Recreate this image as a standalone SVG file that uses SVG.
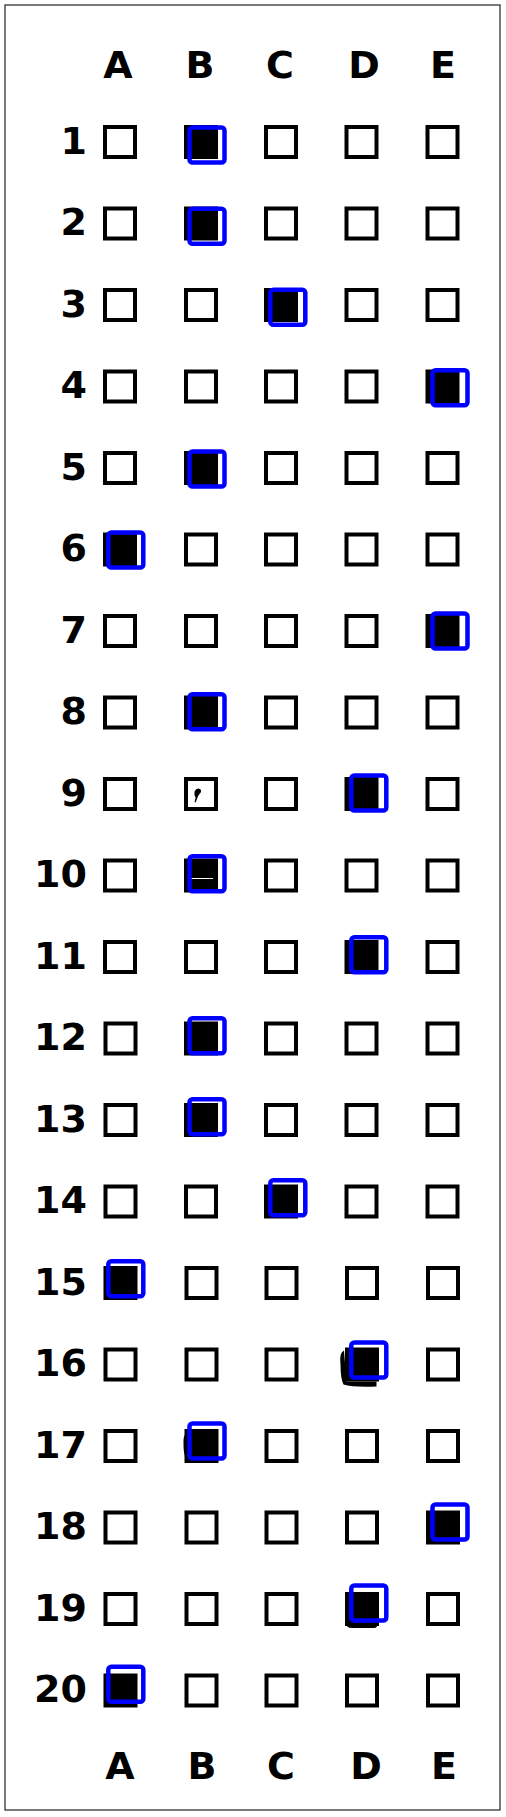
<svg xmlns="http://www.w3.org/2000/svg" width="506" height="1817" viewBox="0 0 506 1817">
<style>
.t{font-family:"DejaVu Sans","Verdana",sans-serif;font-weight:bold;font-size:38px;fill:#000}
.n{text-anchor:end}
.c{text-anchor:middle}
.b{fill:#fff;stroke:#000;stroke-width:4}
.f{fill:#000;stroke:#000;stroke-width:4}
.s{fill:none;stroke:#0000ff;stroke-width:4.5}
</style>
<defs>
<rect id="bx" x="-15" y="-15" width="30" height="30"/>
<rect id="bl" x="-17.5" y="-17.5" width="35" height="35" rx="3"/>
</defs>
<rect x="5" y="5" width="495" height="1805" fill="#fff" stroke="#222" stroke-width="1.2"/>
<g id="header">
<text class="t c" x="118" y="78">A</text>
<text class="t c" x="200" y="78">B</text>
<text class="t c" x="280" y="78">C</text>
<text class="t c" x="364" y="78">D</text>
<text class="t c" x="443" y="78">E</text>
</g>
<g id="footer">
<text class="t c" x="120" y="1779">A</text>
<text class="t c" x="202" y="1779">B</text>
<text class="t c" x="281" y="1779">C</text>
<text class="t c" x="366" y="1779">D</text>
<text class="t c" x="444" y="1779">E</text>
</g>
<g id="row1" transform="translate(0,142)"><text class="t n" x="87" y="11.5">1</text><use href="#bx" class="b" x="120"/><use href="#bx" class="f" x="201"/><use href="#bx" class="b" x="281"/><use href="#bx" class="b" x="361.5"/><use href="#bx" class="b" x="442.5"/><use href="#bl" class="s" x="207" y="3"/></g>
<g id="row2" transform="translate(0,223.5)"><text class="t n" x="87" y="11.5">2</text><use href="#bx" class="b" x="120"/><use href="#bx" class="f" x="201"/><use href="#bx" class="b" x="281"/><use href="#bx" class="b" x="361.5"/><use href="#bx" class="b" x="442.5"/><use href="#bl" class="s" x="207" y="2.7"/></g>
<g id="row3" transform="translate(0,305)"><text class="t n" x="87" y="11.5">3</text><use href="#bx" class="b" x="120"/><use href="#bx" class="b" x="201"/><use href="#bx" class="f" x="281"/><use href="#bx" class="b" x="361.5"/><use href="#bx" class="b" x="442.5"/><use href="#bl" class="s" x="287.8" y="2.2"/></g>
<g id="row4" transform="translate(0,386.5)"><text class="t n" x="87" y="11.5">4</text><use href="#bx" class="b" x="120"/><use href="#bx" class="b" x="201"/><use href="#bx" class="b" x="281"/><use href="#bx" class="b" x="361.5"/><use href="#bx" class="f" x="442.5"/><use href="#bl" class="s" x="450" y="1.3"/></g>
<g id="row5" transform="translate(0,468)"><text class="t n" x="87" y="11.5">5</text><use href="#bx" class="b" x="120"/><use href="#bx" class="f" x="201"/><use href="#bx" class="b" x="281"/><use href="#bx" class="b" x="361.5"/><use href="#bx" class="b" x="442.5"/><use href="#bl" class="s" x="207" y="1"/></g>
<g id="row6" transform="translate(0,549.5)"><text class="t n" x="87" y="11.5">6</text><use href="#bx" class="f" x="120"/><use href="#bx" class="b" x="201"/><use href="#bx" class="b" x="281"/><use href="#bx" class="b" x="361.5"/><use href="#bx" class="b" x="442.5"/><use href="#bl" class="s" x="125.8" y="0.5"/></g>
<g id="row7" transform="translate(0,631)"><text class="t n" x="87" y="11.5">7</text><use href="#bx" class="b" x="120"/><use href="#bx" class="b" x="201"/><use href="#bx" class="b" x="281"/><use href="#bx" class="b" x="361.5"/><use href="#bx" class="f" x="442.5"/><use href="#bl" class="s" x="450" y="0"/></g>
<g id="row8" transform="translate(0,712.5)"><text class="t n" x="87" y="11.5">8</text><use href="#bx" class="b" x="120"/><use href="#bx" class="f" x="201"/><use href="#bx" class="b" x="281"/><use href="#bx" class="b" x="361.5"/><use href="#bx" class="b" x="442.5"/><use href="#bl" class="s" x="207" y="-0.7"/></g>
<g id="row9" transform="translate(0,794)"><text class="t n" x="87" y="11.5">9</text><use href="#bx" class="b" x="120"/><use href="#bx" class="b" x="201"/><path d="M194.5,-2.5 q2,-4 5.5,-2.5 q2.5,2 -0.5,5 q-2,2 -2.5,5 l-1.5,3.5 l-1,-0.5 l1.2,-4.5 q-1.5,-1 -1.2,-6 z" fill="#000"/><use href="#bx" class="b" x="281"/><use href="#bx" class="f" x="361.5"/><use href="#bx" class="b" x="442.5"/><use href="#bl" class="s" x="368.8" y="-1"/></g>
<g id="row10" transform="translate(0,875.5)"><text class="t n" x="87" y="11.5">10</text><use href="#bx" class="b" x="120"/><use href="#bx" class="f" x="201"/><path d="M189,3 H213" stroke="#fff" stroke-width="1"/><use href="#bx" class="b" x="281"/><use href="#bx" class="b" x="361.5"/><use href="#bx" class="b" x="442.5"/><use href="#bl" class="s" x="207" y="-1.8"/></g>
<g id="row11" transform="translate(0,957)"><text class="t n" x="87" y="11.5">11</text><use href="#bx" class="b" x="120"/><use href="#bx" class="b" x="201"/><use href="#bx" class="b" x="281"/><use href="#bx" class="f" x="361.5"/><use href="#bx" class="b" x="442.5"/><use href="#bl" class="s" x="368.8" y="-2.2"/></g>
<g id="row12" transform="translate(0,1038.5)"><text class="t n" x="87" y="11.5">12</text><use href="#bx" class="b" x="120.5"/><use href="#bx" class="f" x="201"/><use href="#bx" class="b" x="281"/><use href="#bx" class="b" x="361.5"/><use href="#bx" class="b" x="442.5"/><use href="#bl" class="s" x="207" y="-2.7"/></g>
<g id="row13" transform="translate(0,1120)"><text class="t n" x="87" y="11.5">13</text><use href="#bx" class="b" x="120.5"/><use href="#bx" class="f" x="201"/><use href="#bx" class="b" x="281"/><use href="#bx" class="b" x="361.5"/><use href="#bx" class="b" x="442.5"/><use href="#bl" class="s" x="207" y="-3.2"/></g>
<g id="row14" transform="translate(0,1201.5)"><text class="t n" x="87" y="11.5">14</text><use href="#bx" class="b" x="120.5"/><use href="#bx" class="b" x="201"/><use href="#bx" class="f" x="281"/><use href="#bx" class="b" x="361.5"/><use href="#bx" class="b" x="442.5"/><use href="#bl" class="s" x="287.8" y="-3.7"/></g>
<g id="row15" transform="translate(0,1283)"><text class="t n" x="87" y="11.5">15</text><use href="#bx" class="f" x="120.5"/><use href="#bx" class="b" x="201.5"/><use href="#bx" class="b" x="281.5"/><use href="#bx" class="b" x="362"/><use href="#bx" class="b" x="443"/><use href="#bl" class="s" x="125.8" y="-4.3"/></g>
<g id="row16" transform="translate(0,1364.5)"><text class="t n" x="87" y="11.5">16</text><use href="#bx" class="b" x="120.5"/><use href="#bx" class="b" x="201.5"/><use href="#bx" class="b" x="281.5"/><path d="M344,-14 q-5,2 -3.5,14 q0,14 3,20 q10,3 33,2 l0,-5 h-30 z" fill="#000"/><use href="#bx" class="f" x="362"/><use href="#bx" class="b" x="443"/><use href="#bl" class="s" x="368.8" y="-4.5"/></g>
<g id="row17" transform="translate(0,1446)"><text class="t n" x="87" y="11.5">17</text><use href="#bx" class="b" x="120.5"/><path d="M187,-14 q-4,3 -3.5,12 q0,8 1.5,12 h4 z" fill="#000"/><use href="#bx" class="f" x="201.5"/><use href="#bx" class="b" x="281.5"/><use href="#bx" class="b" x="362"/><use href="#bx" class="b" x="443"/><use href="#bl" class="s" x="207" y="-5"/></g>
<g id="row18" transform="translate(0,1527.5)"><text class="t n" x="87" y="11.5">18</text><use href="#bx" class="b" x="120.5"/><use href="#bx" class="b" x="201.5"/><use href="#bx" class="b" x="281.5"/><use href="#bx" class="b" x="362"/><use href="#bx" class="f" x="443"/><use href="#bl" class="s" x="450" y="-5.5"/></g>
<g id="row19" transform="translate(0,1609)"><text class="t n" x="87" y="11.5">19</text><use href="#bx" class="b" x="120.5"/><use href="#bx" class="b" x="201.5"/><use href="#bx" class="b" x="281.5"/><path d="M346,14 q0,5 6,5 h22 q4,0 3,-5 z" fill="#000"/><use href="#bx" class="f" x="362"/><use href="#bx" class="b" x="443"/><use href="#bl" class="s" x="368.8" y="-6"/></g>
<g id="row20" transform="translate(0,1690.5)"><text class="t n" x="87" y="11.5">20</text><use href="#bx" class="f" x="120.5"/><use href="#bx" class="b" x="201.5"/><use href="#bx" class="b" x="281.5"/><use href="#bx" class="b" x="362"/><use href="#bx" class="b" x="443"/><use href="#bl" class="s" x="125.8" y="-6.3"/></g>
</svg>
